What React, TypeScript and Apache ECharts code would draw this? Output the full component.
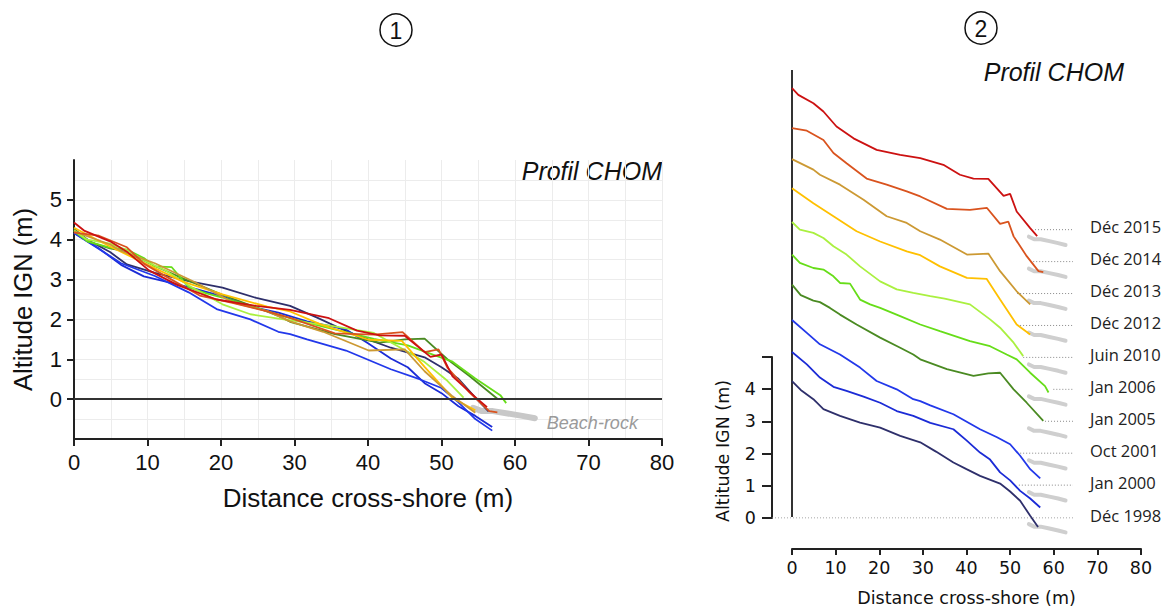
import { useEffect, useRef } from "react";
import * as echarts from "echarts";

// Survey dates (bottom to top in panel 2)
const dates = ["Déc 1998", "Jan 2000", "Oct 2001", "Jan 2005", "Jan 2006", "Juin 2010", "Déc 2012", "Déc 2013", "Déc 2014", "Déc 2015"];
const colors = ["#2e2f6b", "#1b2bd6", "#2238ea", "#4a8a22", "#66dd18", "#aaf040", "#ffc000", "#cc9933", "#d9531e", "#cc1111"];

// Profiles: [distance cross-shore (m), altitude IGN (m)]
const dec1998 = [[0, 4.26], [2, 3.98], [4.9, 3.69], [7.2, 3.38], [11, 3.17], [15.6, 2.96], [20.2, 2.8], [24.8, 2.54], [29.4, 2.34], [33, 2.05], [37, 1.71], [40, 1.5], [43.1, 1.29], [47.7, 1.05], [50, 0.8], [52.3, 0.51], [54.6, 0.04], [56.4, -0.31]];
const jan2000 = [[0, 4.17], [3.4, 3.78], [6.4, 3.37], [9.5, 3.08], [12.5, 2.95], [16.4, 2.77], [20.2, 2.58], [24, 2.32], [27.8, 2.17], [31.7, 1.95], [37, 1.75], [40, 1.4], [43.1, 1.02], [45.4, 0.8], [47.7, 0.4], [50, 0.15], [52.3, -0.18], [54.6, -0.42], [56.9, -0.7]];
const oct2001 = [[0, 4.17], [3.4, 3.77], [6.4, 3.41], [11, 3.09], [15.6, 2.68], [19.4, 2.26], [24, 2.0], [27.8, 1.69], [29.4, 1.63], [31.7, 1.5], [37, 1.22], [43.1, 0.75], [47, 0.5], [50, 0.28], [52.3, -0.08], [54.6, -0.5], [56.9, -0.79]];
const jan2005 = [[0, 4.28], [2, 3.95], [4.9, 3.78], [6.4, 3.73], [8.7, 3.55], [11, 3.34], [14.8, 3.03], [20.2, 2.62], [24.8, 2.3], [27.8, 2.09], [29.4, 1.94], [35.5, 1.63], [41.6, 1.42], [45, 1.5], [47.7, 1.52], [50.8, 1.0], [53.8, 0.58], [57.6, 0.01]];
const jan2006 = [[0, 4.22], [1.8, 3.96], [4.9, 3.8], [7.2, 3.75], [9.5, 3.54], [11, 3.33], [13.3, 3.31], [15.6, 2.81], [17.9, 2.66], [20.2, 2.55], [24.8, 2.29], [29.4, 2.03], [33.9, 1.82], [40.8, 1.51], [45.4, 1.35], [49.2, 1.09], [51.5, 0.94], [54.6, 0.52], [58, 0.1], [58.8, -0.1]];
const juin2010 = [[0, 4.24], [1.8, 4.0], [4.9, 3.9], [7.2, 3.74], [9.5, 3.48], [12.5, 3.22], [15.6, 2.85], [20.2, 2.38], [24, 2.13], [27.8, 2.02], [31.7, 1.92], [35, 1.84], [40.8, 1.66], [45.4, 1.19], [47.7, 0.93], [50.8, 0.46], [53, 0.04]];
const dec2012 = [[0, 4.3], [4.9, 3.83], [9.5, 3.42], [14.8, 2.95], [20.2, 2.63], [26.3, 2.32], [29.4, 2.2], [33.9, 1.85], [40.1, 1.49], [44.6, 1.46], [47.7, 0.81], [51.5, 0.03], [54.6, -0.28]];
const dec2013 = [[0, 4.21], [4.9, 3.88], [6.4, 3.72], [11, 3.41], [16.4, 2.94], [21.7, 2.42], [26.3, 2.21], [29.4, 1.95], [33.9, 1.69], [40.1, 1.22], [45, 1.25], [47.7, 0.7], [51.5, 0.07], [54.6, -0.34]];
const dec2014 = [[0, 4.18], [3.4, 4.1], [7.2, 3.81], [9.5, 3.4], [12.5, 3.08], [17.1, 2.6], [21.7, 2.41], [26.3, 2.2], [29.4, 2.04], [35.5, 1.65], [40.8, 1.62], [44.7, 1.68], [47.7, 1.18], [49.6, 1.25], [50.8, 0.79], [53.8, 0.17], [56.5, -0.3], [57.6, -0.33]];
const dec2015 = [[0, 4.43], [1.45, 4.22], [4.9, 3.96], [7.2, 3.7], [10.2, 3.23], [14.1, 2.86], [19.4, 2.5], [24.8, 2.34], [29.4, 2.24], [34.7, 2.03], [38.5, 1.72], [41.6, 1.6], [45, 1.59], [48.5, 1.06], [50, 1.12], [51.5, 0.57], [54.6, 0.05], [56.2, -0.2]];
const profiles = [dec1998, jan2000, oct2001, jan2005, jan2006, juin2010, dec2012, dec2013, dec2014, dec2015];

const beachRock = [[54.3, -0.22], [55.5, -0.3], [57, -0.3], [59, -0.36], [61, -0.42], [62.7, -0.48]];

// Panel 2: vertical shift between successive profiles (m), and dotted guide extents
const stackStep = 1;
const guideStart = [-4.6, 52, 52.3, 58, 59.9, 53, 51.6, 51.6, 54.6, 55.7];
const guideEnd = 64.4;

const SANS = "Liberation Sans, Arial, sans-serif";
const DJ = "DejaVu Sans, Verdana, sans-serif";

export default function App() {
  const ref = useRef<HTMLDivElement>(null);
  useEffect(() => {
    if (!ref.current) return;
    const chart = echarts.init(ref.current, undefined, { renderer: "svg" });
    const series: any[] = [];
    const base = { type: "line", showSymbol: false, symbol: "none", silent: true, emphasis: { disabled: true }, animation: false };

    // ---- Panel 1 ----
    series.push({
      ...base, xAxisIndex: 0, yAxisIndex: 0, data: beachRock,
      lineStyle: { color: "#c8c8c8", width: 6, cap: "round" },
      endLabel: { show: true, formatter: () => "Beach-rock", offset: [4, 5], fontFamily: SANS, fontStyle: "italic", fontSize: 18, color: "#9a9a9a" },
      markLine: { silent: true, symbol: "none", label: { show: false }, lineStyle: { color: "#333", width: 2, type: "solid" }, data: [{ yAxis: 0 }] },
    });
    profiles.forEach((p, i) => {
      series.push({ ...base, xAxisIndex: 0, yAxisIndex: 0, data: p, lineStyle: { color: colors[i], width: 1.8 } });
    });

    // ---- Panel 2 ----
    series.push({ ...base, xAxisIndex: 1, yAxisIndex: 1, data: [[0, 0], [0, 14]], lineStyle: { color: "#333", width: 2 } });
    profiles.forEach((p, i) => {
      const off = i * stackStep;
      series.push({ ...base, xAxisIndex: 1, yAxisIndex: 1, data: beachRock.map(([x, y]) => [x, y + off]), lineStyle: { color: "#cfcfcf", width: 4, cap: "round" } });
      if (i > 0) {
        series.push({
          ...base, xAxisIndex: 1, yAxisIndex: 1, data: [[guideStart[i], off], [guideEnd, off]],
          lineStyle: { color: "#888", width: 1, type: [1, 2] },
          endLabel: { show: true, formatter: () => dates[i], offset: [9, -3], fontFamily: "Open Sans", fontSize: 16.5, color: "#222" },
        });
      }
      series.push({ ...base, xAxisIndex: 1, yAxisIndex: 1, data: p.map(([x, y]) => [x, y + off]), lineStyle: { color: colors[i], width: 1.8 } });
    });
    series.push({
      ...base, xAxisIndex: 2, yAxisIndex: 2, data: [[guideStart[0], 0], [guideEnd, 0]],
      lineStyle: { color: "#888", width: 1, type: [1, 2] },
      endLabel: { show: true, formatter: () => dates[0], offset: [9, -3], fontFamily: "Open Sans", fontSize: 16.5, color: "#222" },
    });

    const gridLine = { show: true, lineStyle: { color: "#ececec", width: 1 } };
    chart.setOption({
      animation: false,
      grid: [
        { left: 74, top: 160, width: 588, height: 279 },
        { left: 792, top: 70, width: 349, height: 480 },
        { left: 772, top: 357, width: 301, height: 161 },
      ],
      xAxis: [
        {
          gridIndex: 0, type: "value", min: 0, max: 80, interval: 10,
          axisLine: { onZero: false, lineStyle: { color: "#222", width: 2 } },
          axisTick: { length: 7, lineStyle: { color: "#222", width: 2 } },
          axisLabel: { fontFamily: SANS, fontSize: 22, color: "#111", margin: 12 },
          splitLine: gridLine, minorTick: { show: false, splitNumber: 2 }, minorSplitLine: gridLine,
          name: "Distance cross-shore (m)", nameLocation: "middle", nameGap: 46,
          nameTextStyle: { fontFamily: SANS, fontSize: 26, color: "#111" },
        },
        {
          gridIndex: 1, type: "value", min: 0, max: 80, interval: 10,
          axisLine: { onZero: false, lineStyle: { color: "#222", width: 2 } },
          axisTick: { length: 6, lineStyle: { color: "#222", width: 2 } },
          axisLabel: { fontFamily: DJ, fontSize: 17.5, color: "#111", margin: 10 },
          splitLine: { show: false },
          name: "Distance cross-shore (m)", nameLocation: "middle", nameGap: 40,
          nameTextStyle: { fontFamily: DJ, fontSize: 17.5, color: "#111" },
        },
        { gridIndex: 2, type: "value", min: -4.6, max: 64.4, show: false },
      ],
      yAxis: [
        {
          gridIndex: 0, type: "value", min: -1, max: 6, interval: 1,
          axisLine: { show: true, onZero: false, lineStyle: { color: "#222", width: 2 } },
          axisTick: { show: true, length: 7, lineStyle: { color: "#222", width: 2 }, customValues: [0, 1, 2, 3, 4, 5] },
          axisLabel: { fontFamily: SANS, fontSize: 22, color: "#111", margin: 12, customValues: [0, 1, 2, 3, 4, 5] },
          splitLine: gridLine, minorTick: { show: false, splitNumber: 2 }, minorSplitLine: gridLine,
          name: "Altitude IGN (m)", nameLocation: "middle", nameGap: 38,
          nameTextStyle: { fontFamily: SANS, fontSize: 25.5, color: "#111" },
        },
        { gridIndex: 1, type: "value", min: -1, max: 14, show: false },
        {
          gridIndex: 2, type: "value", min: 0, max: 5, interval: 1,
          axisLine: { show: true, onZero: false, lineStyle: { color: "#222", width: 2 } },
          axisTick: { show: true, length: 10, lineStyle: { color: "#222", width: 2 } },
          axisLabel: { fontFamily: DJ, fontSize: 17.5, color: "#111", margin: 16, formatter: (v: number) => (v === 5 ? "" : String(v)) },
          splitLine: { show: false },
        },
      ],
      graphic: [
        { type: "circle", shape: { cx: 396, cy: 30, r: 16 }, style: { fill: "none", stroke: "#111", lineWidth: 1.5 } },
        { type: "text", x: 396, y: 31, style: { text: "1", fontFamily: SANS, fontSize: 23, fill: "#111", textAlign: "center", textVerticalAlign: "middle" } },
        { type: "circle", shape: { cx: 981, cy: 28, r: 16 }, style: { fill: "none", stroke: "#111", lineWidth: 1.5 } },
        { type: "text", x: 981, y: 29, style: { text: "2", fontFamily: SANS, fontSize: 23, fill: "#111", textAlign: "center", textVerticalAlign: "middle" } },
        { type: "text", x: 662, y: 171, style: { text: "Profil CHOM", fontFamily: SANS, fontStyle: "italic", fontSize: 25, fill: "#111", textAlign: "right", textVerticalAlign: "middle" } },
        { type: "text", x: 1124, y: 72, style: { text: "Profil CHOM", fontFamily: SANS, fontStyle: "italic", fontSize: 25, fill: "#111", textAlign: "right", textVerticalAlign: "middle" } },
        { type: "text", x: 723, y: 451, rotation: Math.PI / 2, style: { text: "Altitude IGN (m)", fontFamily: DJ, fontSize: 17.5, fill: "#111", textAlign: "center", textVerticalAlign: "middle" } },
      ],
      series,
    });
    return () => chart.dispose();
  }, []);
  return <div ref={ref} style={{ position: "fixed", left: 0, top: 0, width: 1172, height: 612, background: "#fff" }} />;
}
